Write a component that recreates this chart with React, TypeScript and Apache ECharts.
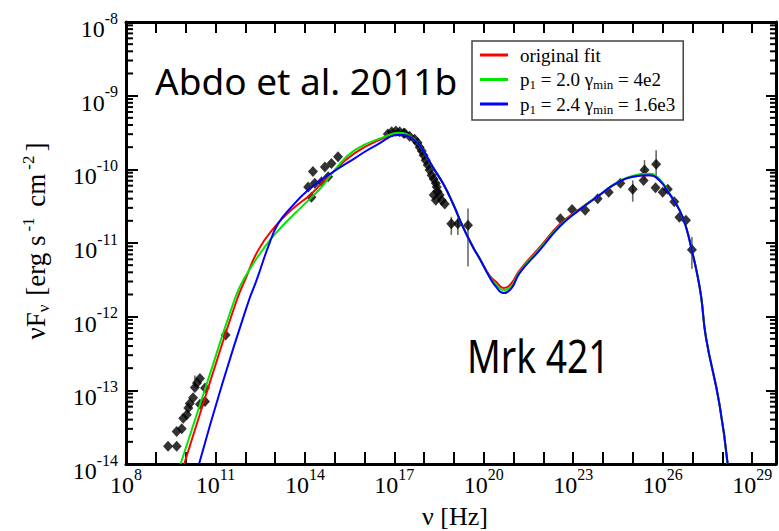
import React, { useEffect, useRef } from 'react';
import * as echarts from 'echarts';

// Axes are logarithmic: every value below is log10 of the quantity.
const X_MIN = 8;
const X_MAX = 29.8;
const Y_MIN = -14;
const Y_MAX = -8;
const xLabelExps = [8, 11, 14, 17, 20, 23, 26, 29];
const yLabelExps = [-14, -13, -12, -11, -10, -9, -8];
const minorMantissas = [2, 3, 4, 5, 6, 7, 8, 9];

const seriesNames = ['original fit', 'p1 = 2.0 γmin = 4e2', 'p1 = 2.4 γmin = 1.6e3'];
const legendLabels = ['original fit', 'p{sub|1} = 2.0 γ{sub|min} = 4e2', 'p{sub|1} = 2.4 γ{sub|min} = 1.6e3'];
const seriesColors = ['#ff0000', '#00e600', '#0000ff'];

// [log10 nu (Hz), log10 nuFnu (erg s^-1 cm^-2)]
const redFit = [
  [9.95, -14.0], [10.8, -12.91], [11.71, -11.78], [11.99, -11.505], [12.43, -11.1], [12.99, -10.78],
  [13.55, -10.55], [14.22, -10.33], [14.78, -10.1], [15.67, -9.78], [16.73, -9.56], [17.15, -9.51],
  [17.62, -9.58], [17.96, -9.74], [18.29, -9.97], [18.63, -10.19], [18.96, -10.46], [19.3, -10.78],
  [19.63, -11.05], [19.86, -11.21], [20.19, -11.44], [20.42, -11.53], [20.66, -11.61], [20.92, -11.55],
  [21.2, -11.37], [21.87, -11.06], [22.54, -10.75], [23.21, -10.54], [23.88, -10.35], [24.44, -10.19],
  [24.99, -10.1], [25.55, -10.08], [25.89, -10.15], [26.22, -10.33], [26.56, -10.55], [26.78, -10.78],
  [27.0, -11.14], [27.13, -11.37], [27.29, -11.73], [27.45, -12.28], [27.9, -13.18], [28.18, -14.0],
];
const greenFit = [
  [9.83, -14.0], [10.71, -12.91], [11.63, -11.78], [11.93, -11.505], [12.66, -11.05], [13.22, -10.78],
  [13.89, -10.51], [14.56, -10.24], [15.0, -10.01], [15.67, -9.74], [16.73, -9.55], [17.15, -9.505],
  [17.62, -9.58], [17.96, -9.74], [18.29, -9.97], [18.63, -10.19], [18.96, -10.46], [19.3, -10.78],
  [19.63, -11.05], [19.86, -11.21], [20.19, -11.455], [20.42, -11.57], [20.66, -11.64], [20.92, -11.59],
  [21.2, -11.39], [21.87, -11.08], [22.54, -10.77], [23.21, -10.545], [23.88, -10.35], [24.44, -10.185],
  [24.99, -10.09], [25.55, -10.06], [25.89, -10.13], [26.22, -10.32], [26.56, -10.55], [26.78, -10.78],
  [27.0, -11.14], [27.13, -11.37], [27.29, -11.73], [27.45, -12.28], [27.9, -13.18], [28.17, -14.0],
];
const blueFit = [
  [10.45, -14.0], [11.23, -12.91], [12.12, -11.78], [12.38, -11.505], [12.77, -11.05], [13.1, -10.74],
  [13.55, -10.51], [14.11, -10.28], [14.78, -10.08], [15.67, -9.85], [16.4, -9.67], [17.18, -9.535],
  [17.62, -9.585], [17.96, -9.74], [18.29, -9.97], [18.63, -10.19], [18.96, -10.46], [19.3, -10.78],
  [19.63, -11.05], [19.86, -11.21], [20.19, -11.46], [20.42, -11.6], [20.66, -11.68], [20.92, -11.62],
  [21.2, -11.41], [21.87, -11.1], [22.54, -10.78], [23.21, -10.55], [23.88, -10.35], [24.44, -10.19],
  [24.99, -10.1], [25.55, -10.08], [25.89, -10.15], [26.22, -10.33], [26.56, -10.55], [26.78, -10.78],
  [27.0, -11.14], [27.13, -11.37], [27.29, -11.73], [27.45, -12.28], [27.9, -13.18], [28.18, -14.0],
];

const radioData = [
  [9.41, -13.76], [9.7, -13.76], [9.7, -13.56], [9.87, -13.52], [9.92, -13.38], [10.04, -13.33],
  [10.09, -13.24], [10.14, -13.18], [10.25, -13.1], [10.31, -12.96], [10.38, -12.9], [10.48, -12.84],
  [10.65, -12.97], [10.65, -13.15], [10.48, -13.19], [11.34, -12.25],
];
const opticalData = [
  [14.11, -10.24], [14.22, -10.38], [14.27, -10.03], [14.33, -10.19], [14.56, -10.17], [14.67, -9.97],
  [14.78, -10.1], [14.89, -9.92], [15.11, -9.83],
];
const xrayData = [
  [16.78, -9.52], [16.91, -9.49], [17.05, -9.48], [17.18, -9.49], [17.31, -9.51], [17.35, -9.51],
  [17.51, -9.55], [17.68, -9.59], [17.78, -9.64], [17.85, -9.7], [17.92, -9.75], [17.98, -9.81],
  [18.05, -9.875], [18.12, -9.94], [18.18, -10.01], [18.25, -10.08], [18.32, -10.13], [18.39, -10.19],
  [18.42, -10.24], [18.45, -10.3], [18.52, -10.35], [18.59, -10.42], [18.69, -10.47], [18.32, -10.35],
  [18.39, -10.42], [18.91, -10.74], [19.13, -10.74], [19.47, -10.76],
];
const gammaData = [
  [22.57, -10.67], [22.96, -10.545], [23.4, -10.555], [23.82, -10.4], [24.19, -10.31], [24.58, -10.19],
  [24.995, -10.27], [25.39, -10.01], [25.36, -10.15], [25.78, -9.93], [25.76, -10.25], [26.0, -10.31],
  [26.17, -10.27], [26.39, -10.44], [26.56, -10.65], [26.78, -10.69], [26.98, -11.09],
];
// [log10 nu, log10 upper, log10 lower]
const errorBars = [
  [10.31, -12.8, -12.96], [18.91, -10.645, -10.89], [19.13, -10.66, -10.89], [19.47, -10.53, -11.32],
  [24.995, -10.15, -10.44], [25.39, -9.875, -10.15], [25.78, -9.74, -10.1], [26.98, -10.92, -11.35],
];

const SERIF = 'Liberation Serif';

const tickRich = {
  b: { fontFamily: SERIF, fontSize: 24, lineHeight: 22, color: '#000', padding: [14, 0, 0, 0] },
  s: { fontFamily: SERIF, fontSize: 16, lineHeight: 16, color: '#000', padding: [0, 0, 8, 0] },
};

function expLabel(v: number) {
  return '{b|10}{s|' + String(v) + '}';
}

export default function App() {
  const ref = useRef<HTMLDivElement>(null);

  useEffect(() => {
    if (!ref.current) return;
    const chart = echarts.init(ref.current, undefined, { renderer: 'svg' });

    const minorTicks: number[][] = [];
    for (let d = Y_MIN; d < Y_MAX; d++) {
      minorMantissas.forEach((k) => minorTicks.push([X_MIN, d + Math.log10(k)]));
    }

    const axisLine = { show: true, lineStyle: { color: '#000', width: 3 } };
    const fits = [redFit, greenFit, blueFit];

    const option: any = {
      animation: false,
      backgroundColor: '#fff',
      grid: { left: 126, right: 2, top: 22, bottom: 67 },
      legend: {
        orient: 'vertical',
        left: 472,
        top: 41,
        backgroundColor: '#fff',
        borderColor: '#444',
        borderWidth: 1.5,
        padding: [2, 8, 4, 8],
        itemWidth: 28,
        itemHeight: 3,
        itemGap: 0.5,
        icon: 'rect',
        data: seriesNames,
        formatter: (name: string) => legendLabels[seriesNames.indexOf(name)],
        textStyle: {
          fontFamily: SERIF,
          fontSize: 19,
          color: '#000',
          lineHeight: 24,
          padding: [0, 0, 0, 7],
          rich: {
            sub: { fontFamily: SERIF, fontSize: 13, color: '#000', padding: [10, 0, 0, 0] },
          },
        },
      },
      xAxis: [
        {
          type: 'value', min: X_MIN, max: X_MAX, interval: 1, position: 'bottom',
          axisLine, splitLine: { show: false },
          axisTick: { show: true, inside: true, length: 12, lineStyle: { color: '#000', width: 2 } },
          axisLabel: {
            margin: 3,
            formatter: (v: number) => (xLabelExps.indexOf(v) >= 0 ? expLabel(v) : ''),
            rich: tickRich,
          },
        },
        {
          type: 'value', min: X_MIN, max: X_MAX, interval: 1, position: 'top',
          axisLine, splitLine: { show: false },
          axisTick: { show: true, inside: true, length: 11, lineStyle: { color: '#000', width: 2 } },
          axisLabel: { show: false },
        },
      ],
      yAxis: [
        {
          type: 'value', min: Y_MIN, max: Y_MAX, interval: 1, position: 'left',
          axisLine, splitLine: { show: false },
          axisTick: { show: true, inside: true, length: 12, lineStyle: { color: '#000', width: 2 } },
          axisLabel: {
            margin: 8,
            formatter: (v: number) => (yLabelExps.indexOf(v) >= 0 ? expLabel(v) : ''),
            rich: tickRich,
          },
        },
        {
          type: 'value', min: Y_MIN, max: Y_MAX, interval: 1, position: 'right',
          axisLine, splitLine: { show: false },
          axisTick: { show: true, inside: true, length: 10, lineStyle: { color: '#000', width: 2 } },
          axisLabel: { show: false },
        },
      ],
      graphic: [
        {
          type: 'text', x: 155, y: 80,
          style: { text: 'Abdo et al. 2011b', fontFamily: 'Noto Sans', fontSize: 37, fill: '#000', align: 'left', verticalAlign: 'middle' },
        },
        {
          type: 'text', x: 467, y: 355, scaleX: 0.81,
          style: { text: 'Mrk 421', fontFamily: 'Noto Sans', fontSize: 46, fill: '#000', align: 'left', verticalAlign: 'middle' },
        },
        {
          type: 'text', x: 455, y: 516,
          style: { text: 'ν [Hz]', fontFamily: SERIF, fontSize: 26, fill: '#000', align: 'center', verticalAlign: 'middle' },
        },
        {
          type: 'text', x: 36, y: 241, rotation: Math.PI / 2,
          style: {
            text: '{m|νF}{sub|ν}{m| [erg s}{sup|-1}{m| cm}{sup|-2}{m|]}',
            align: 'center', verticalAlign: 'middle',
            rich: {
              m: { fontFamily: SERIF, fontSize: 27, fill: '#000', color: '#000' },
              sub: { fontFamily: SERIF, fontSize: 17, fill: '#000', color: '#000', padding: [14, 2, 0, 0] },
              sup: { fontFamily: SERIF, fontSize: 17, fill: '#000', color: '#000', padding: [0, 4, 16, 4] },
            },
          },
        },
      ],
      series: [
        {
          type: 'custom',
          name: 'minor ticks',
          silent: true,
          data: minorTicks,
          encode: { x: 0, y: 1 },
          renderItem: (params: any, api: any) => {
            const y = api.value(1);
            const l = api.coord([X_MIN, y]);
            const r = api.coord([X_MAX, y]);
            return {
              type: 'group',
              children: [
                { type: 'line', shape: { x1: l[0], y1: l[1], x2: l[0] + 7, y2: l[1] }, style: { stroke: '#000', lineWidth: 2 } },
                { type: 'line', shape: { x1: r[0] - 6, y1: r[1], x2: r[0], y2: r[1] }, style: { stroke: '#000', lineWidth: 2 } },
              ],
            };
          },
        },
        {
          type: 'custom',
          name: 'error bars',
          silent: true,
          data: errorBars,
          encode: { x: 0, y: [1, 2] },
          renderItem: (params: any, api: any) => {
            const p1 = api.coord([api.value(0), api.value(1)]);
            const p2 = api.coord([api.value(0), api.value(2)]);
            return {
              type: 'line',
              shape: { x1: p1[0], y1: p1[1], x2: p2[0], y2: p2[1] },
              style: { stroke: '#6a6a6a', lineWidth: 1.6 },
            };
          },
        },
        {
          type: 'scatter',
          name: 'data',
          symbol: 'diamond',
          symbolSize: [10, 11],
          itemStyle: { color: '#000' },
          data: [...radioData, ...opticalData, ...xrayData, ...gammaData],
        },
        ...fits.map((d, i) => ({
          type: 'line',
          name: seriesNames[i],
          data: d,
          showSymbol: false,
          smooth: 0.5,
          lineStyle: { color: seriesColors[i], width: 2 },
          itemStyle: { color: seriesColors[i] },
        })),
      ],
    };

    chart.setOption(option);
    return () => chart.dispose();
  }, []);

  return (
    <div
      ref={ref}
      style={{ position: 'fixed', left: 0, top: 0, width: 779, height: 531, background: '#fff' }}
    />
  );
}
